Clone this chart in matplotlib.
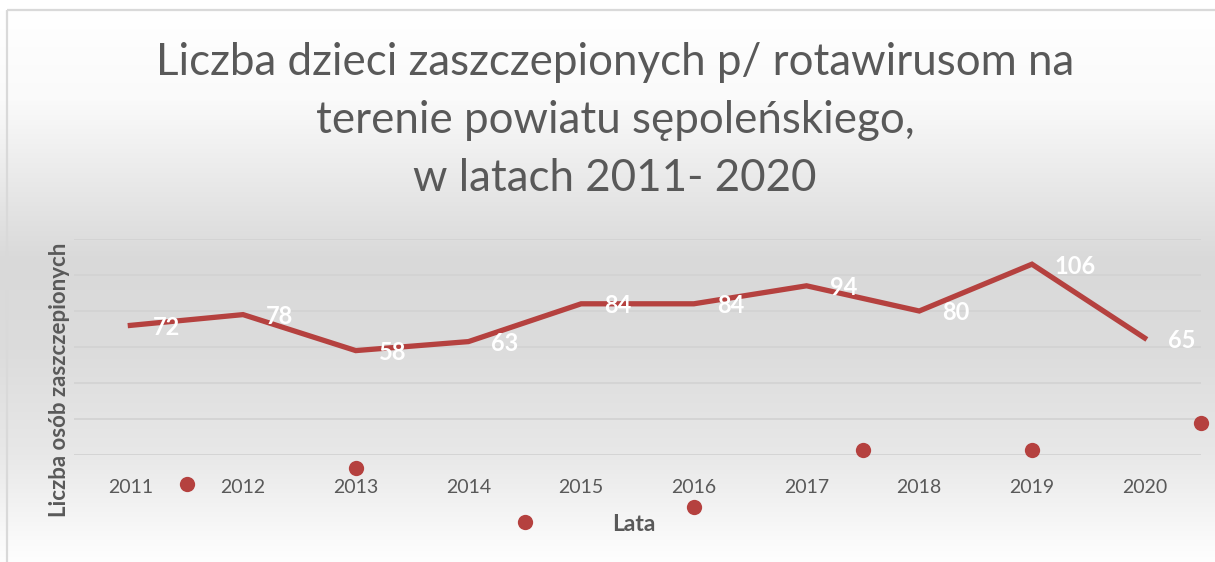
import numpy as np
import matplotlib
matplotlib.use("Agg")
import matplotlib.pyplot as plt

# ---- data ----
years = [2011, 2012, 2013, 2014, 2015, 2016, 2017, 2018, 2019, 2020]
vaccinated = [72, 78, 58, 63, 84, 84, 94, 80, 106, 65]
tick_labels = [str(y) for y in years]
# stray marker points visible in the picture (x in years, y in data units)
stray_x = [2011.5, 2013.0, 2014.5, 2016.0, 2017.5, 2019.0, 2020.5]
stray_y = [-16, -7, -37, -29, 3, 3, 18]

title_lines = ["Liczba dzieci zaszczepionych p/ rotawirusom na",
               "terenie powiatu sępoleńskiego,",
               "w latach 2011- 2020"]
xlabel = "Lata"
ylabel = "Liczba osób zaszczepionych"

plt.rcParams['font.family'] = ['Lato', 'DejaVu Sans']
W, H = 1215, 562
fig = plt.figure(figsize=(W / 100, H / 100), dpi=100)

# background gradient
bg = fig.add_axes([0, 0, 1, 1], zorder=-10)
py = np.array([0, 10, 100, 230, 260, 350, 455, 540, 562])
pv = np.array([255, 255, 250, 223, 217, 220, 232, 250, 254])
rows = np.interp(np.arange(H), py, pv) / 255.0
img = np.repeat(rows[:, None], 4, axis=1)
bg.imshow(np.dstack([img, img, img]), aspect='auto', extent=[0, W, H, 0])
bg.set_xlim(0, W)
bg.set_ylim(H, 0)
bg.axis('off')
# chart border (left & top)
bg.plot([7, 7], [562, 10], color='#d9d9d9', lw=1.6, solid_capstyle='butt')
bg.plot([7, 1215], [10, 10], color='#d9d9d9', lw=1.6, solid_capstyle='butt')

left, right = 74 / W, 1201 / W
bottom, top = 1 - 455 / H, 1 - 239 / H
ax = fig.add_axes([left, bottom, right - left, top - bottom])
ax.patch.set_alpha(0)
ax.set_xlim(2010.5, 2020.5)
ax.set_ylim(0, 120)
ax.set_yticks(np.arange(0, 121, 20))
ax.yaxis.grid(True, color='#d3d3d3', lw=1.3)
ax.set_axisbelow(True)
for s in ax.spines.values():
    s.set_visible(False)
ax.tick_params(axis='y', left=False, labelleft=False)
ax.set_xticks(years)
ax.set_xticklabels(tick_labels, fontsize=14, color='#595959')
ax.tick_params(axis='x', bottom=False, pad=14)

line_color = '#b5413f'
ax.plot(years, vaccinated, color=line_color, lw=3.8, solid_joinstyle='miter', zorder=3)
for x, v in zip(years, vaccinated):
    ax.annotate(str(v), (x, v), xytext=(23, -2), textcoords='offset pixels',
                ha='left', va='center', color='white', fontsize=17,
                fontweight='bold', zorder=5)

ax.plot(stray_x, stray_y, 'o', color=line_color, markersize=11, clip_on=False,
        zorder=4, markeredgewidth=0)

fig.text(60 / W, 1 - 380 / H, ylabel, rotation=90, ha='center', va='center',
         fontsize=16, fontweight='bold', color='#595959')
fig.text(634 / W, 1 - 531 / H, xlabel, ha='center', va='baseline',
         fontsize=16.5, fontweight='bold', color='#595959')
for line, yb in zip(title_lines, [75, 133, 191]):
    fig.text(615 / W, 1 - yb / H, line, ha='center', va='baseline',
             fontsize=31.6, color='#595959')

fig.savefig('out.png', dpi=100)
